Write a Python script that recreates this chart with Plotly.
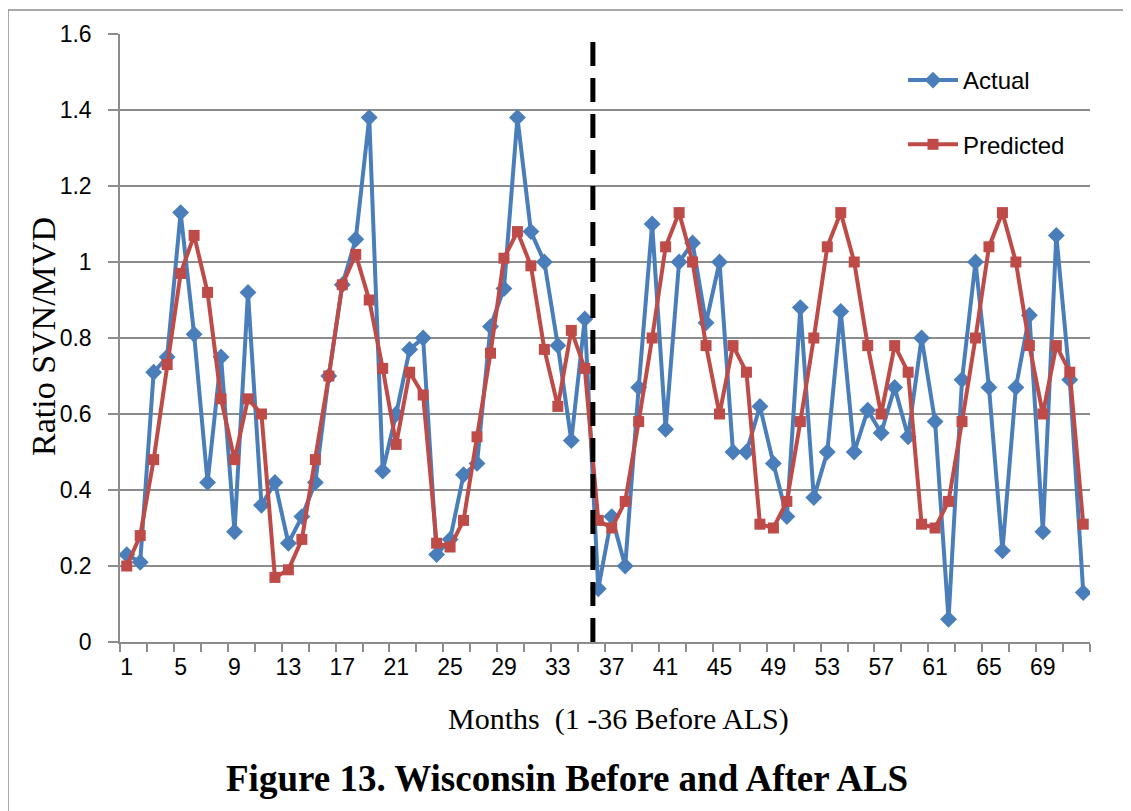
import plotly.graph_objects as go

months = list(range(1, 73))

actual = [0.23, 0.21, 0.71, 0.75, 1.13, 0.81, 0.42, 0.75, 0.29, 0.92, 0.36, 0.42,
          0.26, 0.33, 0.42, 0.70, 0.94, 1.06, 1.38, 0.45, 0.60, 0.77, 0.80, 0.23,
          0.27, 0.44, 0.47, 0.83, 0.93, 1.38, 1.08, 1.00, 0.78, 0.53, 0.85, 0.14,
          0.33, 0.20, 0.67, 1.10, 0.56, 1.00, 1.05, 0.84, 1.00, 0.50, 0.50, 0.62,
          0.47, 0.33, 0.88, 0.38, 0.50, 0.87, 0.50, 0.61, 0.55, 0.67, 0.54, 0.80,
          0.58, 0.06, 0.69, 1.00, 0.67, 0.24, 0.67, 0.86, 0.29, 1.07, 0.69, 0.13]

predicted = [0.20, 0.28, 0.48, 0.73, 0.97, 1.07, 0.92, 0.64, 0.48, 0.64, 0.60, 0.17,
             0.19, 0.27, 0.48, 0.70, 0.94, 1.02, 0.90, 0.72, 0.52, 0.71, 0.65, 0.26,
             0.25, 0.32, 0.54, 0.76, 1.01, 1.08, 0.99, 0.77, 0.62, 0.82, 0.72, 0.32,
             0.30, 0.37, 0.58, 0.80, 1.04, 1.13, 1.00, 0.78, 0.60, 0.78, 0.71, 0.31,
             0.30, 0.37, 0.58, 0.80, 1.04, 1.13, 1.00, 0.78, 0.60, 0.78, 0.71, 0.31,
             0.30, 0.37, 0.58, 0.80, 1.04, 1.13, 1.00, 0.78, 0.60, 0.78, 0.71, 0.31]

x_tick_labels = list(range(1, 73, 4))
y_ticks = [0, 0.2, 0.4, 0.6, 0.8, 1.0, 1.2, 1.4, 1.6]
y_tick_text = ["0", "0.2", "0.4", "0.6", "0.8", "1", "1.2", "1.4", "1.6"]
als_break = 35.6

blue = "#4a7ebb"
red = "#be4b48"
grid = "#8c8c8c"
sans = "Liberation Sans, Arial, sans-serif"
serif = "Liberation Serif, Times New Roman, serif"

# page body adds an 8px offset; figure is sized to compensate
OFF = 8
W, H = 1131 - OFF, 811 - OFF
PL, PR, PT, PB = 120 - OFF, 1090 - OFF, 34 - OFF, 642 - OFF
PW, PH = PR - PL, PB - PT


def px(xs):
    return (xs - OFF - PL) / PW


def py(ys):
    return (PB - (ys - OFF)) / PH


fig = go.Figure()
fig.add_trace(go.Scatter(
    x=months, y=actual, name="Actual", mode="lines+markers",
    line=dict(color=blue, width=4),
    marker=dict(symbol="diamond", size=13, color=blue),
    legendgroup="a"))
fig.add_trace(go.Scatter(
    x=months, y=predicted, name="Predicted", mode="lines+markers",
    line=dict(color=red, width=4),
    marker=dict(symbol="square", size=11, color=red),
    legendgroup="p"))

# dashed ALS line
fig.add_shape(type="line", xref="x", yref="y", x0=als_break, x1=als_break,
              y0=0, y1=1.6, line=dict(color="black", width=5, dash="24px,12px"))

# outer frame
fig.add_shape(type="rect", xref="paper", yref="paper",
              x0=px(8), x1=1.2, y0=-0.5, y1=py(10),
              line=dict(color=grid, width=1.5), layer="below")

fig.update_layout(
    width=W, height=H,
    margin=dict(l=PL, r=W - PR, t=PT, b=H - PB),
    paper_bgcolor="white", plot_bgcolor="white",
    showlegend=True,
    legend=dict(x=px(903), y=py(58), xanchor="left", yanchor="top",
                font=dict(family=sans, size=24, color="black"),
                bgcolor="rgba(0,0,0,0)", tracegroupgap=30,
                itemwidth=50),
    xaxis=dict(
        range=[0.5, 72.5], tickmode="array", tickvals=x_tick_labels,
        ticktext=[str(v) for v in x_tick_labels], ticks="",
        showgrid=False, showline=True, linecolor=grid, linewidth=1.5,
        tickfont=dict(family=sans, size=23, color="black"),
        ticklabelstandoff=4,
        minor=dict(tickmode="array", tickvals=[0.5 + 2 * i for i in range(37)],
                   ticks="outside", ticklen=8, tickcolor=grid, tickwidth=1.5,
                   showgrid=False),
        zeroline=False,
    ),
    yaxis=dict(
        range=[0, 1.6], tickmode="array", tickvals=y_ticks, ticktext=y_tick_text,
        ticks="outside", ticklen=10, tickcolor=grid, tickwidth=1.5,
        showgrid=True, gridcolor=grid, gridwidth=1.5,
        showline=True, linecolor=grid, linewidth=1.5,
        tickfont=dict(family=sans, size=23, color="black"),
        ticklabelstandoff=12,
        zeroline=False,
    ),
    annotations=[
        dict(text="Ratio SVN/MVD", xref="paper", yref="paper",
             x=px(43), y=py(337), textangle=-90,
             showarrow=False, font=dict(family=serif, size=34, color="black"),
             xanchor="center", yanchor="middle"),
        dict(text="Months  (1 -36 Before ALS)", xref="paper", yref="paper",
             x=px(618), y=py(719),
             showarrow=False, font=dict(family=serif, size=30, color="black"),
             xanchor="center", yanchor="middle"),
        dict(text="<b>Figure 13. Wisconsin Before and After ALS</b>",
             xref="paper", yref="paper",
             x=px(567), y=py(778),
             showarrow=False, font=dict(family=serif, size=37, color="black"),
             xanchor="center", yanchor="middle"),
    ],
)

fig.write_html("out.html")
